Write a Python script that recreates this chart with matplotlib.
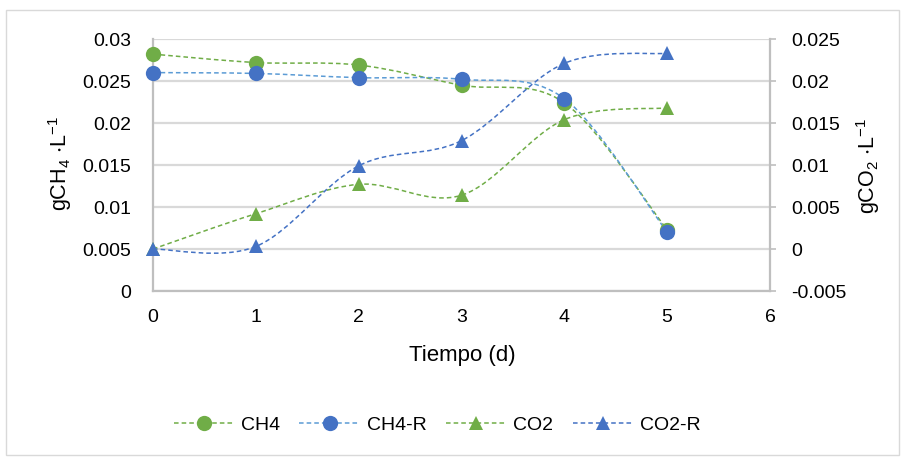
import matplotlib
matplotlib.use("Agg")
import matplotlib.pyplot as plt
from matplotlib.path import Path
from matplotlib.patches import PathPatch, Rectangle
from matplotlib.lines import Line2D

plt.rcParams['font.family'] = ['Liberation Sans', 'DejaVu Sans']
plt.rcParams['mathtext.fontset'] = 'custom'
plt.rcParams['mathtext.rm'] = 'Liberation Sans'
plt.rcParams['mathtext.it'] = 'Liberation Sans'
plt.rcParams['mathtext.default'] = 'regular'

# Data (time in days)
dias = [0, 1, 2, 3, 4, 5]
ch4 = [0.0282, 0.0272, 0.0269, 0.0245, 0.0224, 0.0073]
ch4_r = [0.0260, 0.0259, 0.0254, 0.0252, 0.0229, 0.0070]
co2 = [0.0, 0.0042, 0.0077, 0.0064, 0.0154, 0.0168]
co2_r = [0.0, 0.0003, 0.0099, 0.0129, 0.0221, 0.0233]

y_left_ticks = [0, 0.005, 0.01, 0.015, 0.02, 0.025, 0.03]
y_left_labels = ["0", "0.005", "0.01", "0.015", "0.02", "0.025", "0.03"]
y_right_ticks = [-0.005, 0, 0.005, 0.01, 0.015, 0.02, 0.025]
y_right_labels = ["-0.005", "0", "0.005", "0.01", "0.015", "0.02", "0.025"]
x_ticks = [0, 1, 2, 3, 4, 5, 6]

GREEN = "#70AD47"
BLUE = "#4472C4"
LIGHT_BLUE = "#5B9BD5"
GRID = "#D9D9D9"
SPINE = "#BFBFBF"
FS = 14
FS_LABEL = 16
DASH = (0, (3, 2))


def smooth_path(xs, ys):
    """Cubic Bezier path through the points (spreadsheet-style smoothing)."""
    pts = list(zip(xs, ys))
    n = len(pts)
    verts = [pts[0]]
    codes = [Path.MOVETO]
    for i in range(n - 1):
        p0 = pts[i - 1] if i > 0 else pts[i]
        p1 = pts[i]
        p2 = pts[i + 1]
        p3 = pts[i + 2] if i + 2 < n else pts[i + 1]
        c1 = (p1[0] + (p2[0] - p0[0]) / 6, p1[1] + (p2[1] - p0[1]) / 6)
        c2 = (p2[0] - (p3[0] - p1[0]) / 6, p2[1] - (p3[1] - p1[1]) / 6)
        verts += [c1, c2, p2]
        codes += [Path.CURVE4] * 3
    return Path(verts, codes)


def draw_series(ax, xs, ys, line_color, marker_color, marker, ms):
    patch = PathPatch(smooth_path(xs, ys), facecolor="none", edgecolor=line_color,
                      linewidth=1.1, linestyle=DASH, zorder=3)
    ax.add_patch(patch)
    ax.plot(xs, ys, linestyle="none", marker=marker, markersize=ms,
            color=marker_color, markeredgewidth=0, zorder=4, clip_on=False)


fig = plt.figure(figsize=(9.04, 4.57), dpi=100)
fig.patches.append(Rectangle((6 / 904, 2 / 457), 893 / 904, 445 / 457,
                             transform=fig.transFigure, facecolor="none",
                             edgecolor="#D9D9D9", linewidth=1.0))

ax = fig.add_axes([153 / 904, 1 - 291 / 457, 617 / 904, 252 / 457])
ax2 = ax.twinx()

ax.set_xlim(0, 6)
ax.set_ylim(0, 0.03)
ax2.set_ylim(-0.005, 0.025)

ax.set_xticks(x_ticks)
ax.set_xticklabels([str(t) for t in x_ticks], fontsize=FS)
ax.set_yticks(y_left_ticks)
ax.set_yticklabels(y_left_labels, fontsize=FS)
ax2.set_yticks(y_right_ticks)
ax2.set_yticklabels(y_right_labels, fontsize=FS)

ax.yaxis.grid(True, color=GRID, linewidth=1.6, zorder=0)
ax.set_axisbelow(True)

for a in (ax, ax2):
    for s in a.spines.values():
        s.set_visible(False)
for a, side in ((ax, 'left'), (ax, 'bottom'), (ax2, 'right')):
    a.spines[side].set_visible(True)
    a.spines[side].set_color(SPINE)
    a.spines[side].set_linewidth(1.6)

ax.tick_params(axis='x', length=0, pad=13)
ax.tick_params(axis='y', length=0, pad=16)
ax2.tick_params(axis='y', length=4, width=1.2, color=SPINE, pad=11)

# Axis titles
fig.text(462 / 904, 1 - 356 / 457, "Tiempo (d)", fontsize=FS_LABEL,
         ha="center", va="center")
fig.text(60 / 904, 1 - 164 / 457, r"gCH$_4$ $\cdot$L$^{-1}$", fontsize=15.5,
         rotation=90, ha="center", va="center")
fig.text(868 / 904, 1 - 166 / 457, r"gCO$_2$ $\cdot$L$^{-1}$", fontsize=15.5,
         rotation=90, ha="center", va="center")

draw_series(ax, dias, ch4, GREEN, GREEN, "o", 11)
draw_series(ax, dias, ch4_r, LIGHT_BLUE, BLUE, "o", 11)
draw_series(ax2, dias, co2, GREEN, GREEN, "^", 10)
draw_series(ax2, dias, co2_r, BLUE, BLUE, "^", 10)

handles = [
    Line2D([], [], color=GREEN, linestyle=DASH, linewidth=1.1,
           marker="o", markersize=11, markerfacecolor=GREEN, markeredgewidth=0),
    Line2D([], [], color=LIGHT_BLUE, linestyle=DASH, linewidth=1.1,
           marker="o", markersize=11, markerfacecolor=BLUE, markeredgewidth=0),
    Line2D([], [], color=GREEN, linestyle=DASH, linewidth=1.1,
           marker="^", markersize=10, markerfacecolor=GREEN, markeredgewidth=0),
    Line2D([], [], color=BLUE, linestyle=DASH, linewidth=1.1,
           marker="^", markersize=10, markerfacecolor=BLUE, markeredgewidth=0),
]
fig.legend(handles, ["CH4", "CH4-R", "CO2", "CO2-R"], loc="center",
           bbox_to_anchor=(437 / 904, 1 - 425 / 457), ncol=4, frameon=False,
           fontsize=FS, handlelength=3.1, handletextpad=0.36, columnspacing=1.0)

fig.savefig("out.png", dpi=100)
